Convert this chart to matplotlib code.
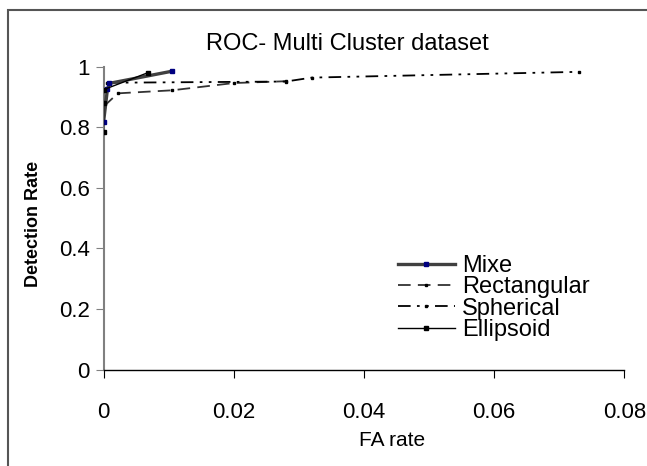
import matplotlib
matplotlib.use("Agg")
import matplotlib.pyplot as plt
from matplotlib.patches import Rectangle

plt.rcParams["font.family"] = ["Liberation Sans", "DejaVu Sans"]

# ROC 曲線の読み取り値（FA rate, Detection Rate）
mixe_fa = [0.0, 0.0006, 0.0009, 0.0105]
mixe_dr = [0.816, 0.925, 0.945, 0.985]
rect_fa = [0.0, 0.0022, 0.0105, 0.020, 0.028]
rect_dr = [0.868, 0.912, 0.922, 0.946, 0.952]
sph_fa = [0.0005, 0.028, 0.032, 0.073]
sph_dr = [0.947, 0.951, 0.964, 0.983]
ell_fa = [0.0, 0.0, 0.0, 0.0068]
ell_dr = [0.784, 0.881, 0.924, 0.980]

x_ticks = [0, 0.02, 0.04, 0.06, 0.08]
x_labels = ["0", "0.02", "0.04", "0.06", "0.08"]
y_ticks = [0, 0.2, 0.4, 0.6, 0.8, 1.0]
y_labels = ["0", "0.2", "0.4", "0.6", "0.8", "1"]

W, H = 647, 466
fig = plt.figure(figsize=(W / 100, H / 100), dpi=100)
ax = fig.add_axes([103.5 / W, 1 - 369.5 / H, (624.3 - 103.5) / W, (369.5 - 66.7) / H])

# 外枠（左・上のみ見える）
fig.patches.append(Rectangle((8 / W, -0.1), 1.2, 1 - 10 / H + 0.1, transform=fig.transFigure,
                             fill=False, edgecolor="#555555", linewidth=1.5))

ax.plot(mixe_fa, mixe_dr, color="#404040", linewidth=2.4, marker="s", markersize=3,
        markerfacecolor="#000080", markeredgecolor="#000080", label="Mixe", zorder=4)
ax.plot(rect_fa, rect_dr, color="#333333", linewidth=1.3, dashes=(7, 4), marker="s", markersize=2,
        markerfacecolor="black", markeredgecolor="black", label="Rectangular", zorder=3)
ax.plot(sph_fa, sph_dr, color="black", linewidth=1.3, dashes=(7, 3.5, 1.5, 3.5, 1.5, 3.5), marker="s",
        markersize=2, markerfacecolor="black", markeredgecolor="black", label="Spherical", zorder=3)
ax.plot(ell_fa, ell_dr, color="black", linewidth=1.0, marker="s", markersize=3,
        markerfacecolor="black", markeredgecolor="black", label="Ellipsoid", zorder=5)

ax.set_xlim(0, 0.08)
ax.set_ylim(0, 1)
ax.set_xticks(x_ticks)
ax.set_xticklabels(x_labels, va="center")
ax.set_yticks(y_ticks)
ax.set_yticklabels(y_labels)
ax.tick_params(axis="x", direction="out", length=6, width=0.8, color="black", labelsize=16, pad=25)
ax.tick_params(axis="y", direction="out", length=6, width=0.8, color="#808080", labelsize=16, pad=4)

for s in ("top", "right"):
    ax.spines[s].set_visible(False)
ax.spines["left"].set_color("#808080")
ax.spines["left"].set_linewidth(1.5)
ax.spines["bottom"].set_color("black")
ax.spines["bottom"].set_linewidth(1.0)

ax.set_xlabel("FA rate", fontsize=15, va="center")
ax.xaxis.set_label_coords((392 - 103.5) / 520.8, -(441 - 369.5) / 302.8)
ax.set_ylabel("Detection Rate", fontsize=13, fontweight="bold", va="center")
ax.yaxis.set_label_coords((33 - 103.5) / 520.8, (369.5 - 224) / 302.8)
fig.text(347 / W, 1 - 44 / H, "ROC- Multi Cluster dataset", fontsize=17, ha="center", va="center")

ax.legend(loc="upper left", bbox_to_anchor=(398 / W, 1 - 255 / H), bbox_transform=fig.transFigure,
          frameon=False, fontsize=17, handlelength=2.4, handletextpad=0.3, labelspacing=-0.03,
          borderpad=0, borderaxespad=0)

fig.savefig("out.png", dpi=100)
